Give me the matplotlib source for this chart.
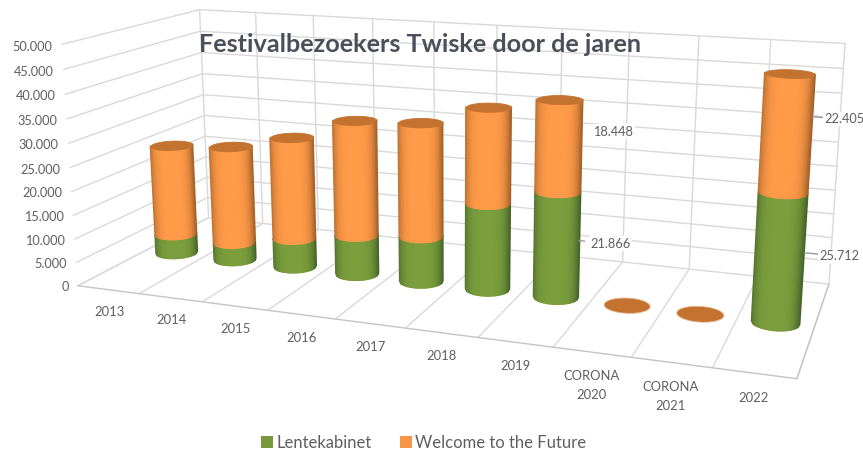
import numpy as np
import matplotlib
matplotlib.use('Agg')
import matplotlib.pyplot as plt
from matplotlib.colors import to_rgb
from matplotlib.patches import Patch
from mpl_toolkits.mplot3d import proj3d
from mpl_toolkits.mplot3d.art3d import Poly3DCollection

categories = ['2013', '2014', '2015', '2016', '2017', '2018', '2019',
              'CORONA\n2020', 'CORONA\n2021', '2022']
lentekabinet = [4300, 3900, 6300, 8500, 9700, 18100, 21866, 0, 0, 25712]
welcome = [20000, 21300, 22000, 24500, 23900, 19700, 18448, 0, 0, 22405]
value_ticks = list(range(0, 50001, 5000))

# Series order bottom to top, with the light and shaded cylinder colours
series = [('Lentekabinet', lentekabinet, '#7a9e3c', '#47652a', '#78993b'),
          ('Welcome to the Future', welcome, '#ff9a48', '#a5622a', '#f79646')]
CAP = '#c3732f'
GRID = '#d9d9d9'
EDGE = '#c4c4c4'
TEXT = '#5f5f5f'

W, H = 863, 449
plt.rcParams['font.family'] = ['Lato', 'DejaVu Sans']
fig = plt.figure(figsize=(W / 100, H / 100), dpi=100)
A = 264.18
ax = fig.add_axes([318.47 / W, 146.40 / H, A / W, A / H], projection='3d',
                  computed_zorder=False)
ax.set_axis_off()
ELEV, AZIM = 13.999, -70.02
ZOOM = 2.9619
ax.view_init(ELEV, AZIM, 0.0)
BOX = np.array([2.8961, 1.0764, 1.0])
# set_box_aspect rescales the array it is given, so it gets its own copy
ax.set_box_aspect(BOX.copy(), zoom=ZOOM)
ZMAX = value_ticks[-1]
N = len(categories)
ax.set_xlim(0, N)
ax.set_ylim(0, 1)
ax.set_zlim(0, ZMAX)
ax.set_xticks([])
ax.set_yticks([])
ax.set_zticks([])
ax.apply_aspect()
PROJ = ax.get_proj()


def line3d(xs, ys, zs, color=GRID, lw=1.0, z=1):
    ax.plot(xs, ys, zs, color=color, lw=lw, clip_on=False, zorder=z,
            solid_capstyle='round')


def label3d(x, y, z, s, **kw):
    # Flat text anchored at the projected position of a 3D point
    px, py, _ = proj3d.proj_transform(x, y, z, PROJ)
    return ax.text2D(px, py, s, transform=ax.transData, clip_on=False, **kw)


# Walls and floor
for v in value_ticks:
    line3d([0, 0], [0, 1], [v, v])
    line3d([0, N], [1, 1], [v, v])
for i in range(N + 1):
    line3d([i, i], [1, 1], [0, ZMAX])
    line3d([i, i], [0, 1], [0, 0])
line3d([0, N], [0, 0], [0, 0], color=EDGE)
line3d([N, N], [0, 1], [0, 0], color=EDGE)

# Box extents in scene units and the camera above the floor in front of it
scene = BOX * 1.8294640721620434 * 25 / 24 * ZOOM / np.linalg.norm(BOX)
el, az = np.deg2rad(ELEV), np.deg2rad(AZIM)
eye_x = scene[0] / 2 + 10 * np.cos(el) * np.cos(az)
eye_y = scene[1] / 2 + 10 * np.cos(el) * np.sin(az)

# Cylinder radius as a circle in the scene, expressed in data units
R_BOX = 0.090
RX = R_BOX / (BOX[0] / N)
RY = R_BOX / BOX[1]
STRIPS = 30
across = np.linspace(-1, 1, STRIPS + 1)
circle = np.linspace(0, 2 * np.pi, 121)


def side_colors(light, dark):
    light, dark = np.array(to_rgb(light)), np.array(to_rgb(dark))
    mid = 0.5 * (across[:-1] + across[1:])
    t = np.clip(np.abs(mid + 0.06), 0, 1)[:, None] ** 4
    rgb = light * (1 - t) + dark * t
    return np.c_[rgb, np.ones(len(rgb))][None, :, :]


layer = 10
for i in range(N):
    cx = i + 0.5
    # Only the half facing the camera, sampled evenly across the bar's width
    facing = np.arctan2(eye_y - 0.5 * scene[1], eye_x - cx / N * scene[0])
    angle = facing + np.arcsin(across)
    xs = cx + RX * np.cos(angle)
    ys = 0.5 + RY * np.sin(angle)
    base = 0
    for name, vals, light, dark, _ in series:
        v = vals[i]
        if v > 0:
            X = np.vstack([xs, xs])
            Y = np.vstack([ys, ys])
            Z = np.vstack([np.full_like(xs, base), np.full_like(xs, base + v)])
            ax.plot_surface(X, Y, Z, facecolors=side_colors(light, dark),
                            rstride=1, cstride=1, shade=False, linewidth=1.0,
                            antialiased=True, clip_on=False, zorder=layer)
            layer += 1
        base += v
    ring = np.c_[cx + RX * np.cos(circle), 0.5 + RY * np.sin(circle),
                 np.full_like(circle, base)]
    cap = Poly3DCollection([ring], facecolor=CAP,
                           edgecolor='#e9b78c' if base == 0 else CAP,
                           linewidth=0.6, zorder=layer, clip_on=False)
    ax.add_collection3d(cap, autolim=False)
    layer += 1


def dutch(v):
    return f'{v:,}'.replace(',', '.')


# Value axis labels in front of the left wall
for v in value_ticks:
    label3d(-0.16, 0, v - 600, dutch(v), ha='right', va='center', color=TEXT,
            fontsize=9.2, zorder=50)

# Category labels under the front floor edge
for i, c in enumerate(categories):
    label3d(i + 0.5, 0, -3500, c, ha='center', va='top', color=TEXT,
            fontsize=9.4, linespacing=1.7, zorder=50)

# Value labels beside the last festival bars
for i, vi, height, leader, gap in [(6, 0, 0.56, 0.08, 0.75), (6, 1, 0.7, 0.0, 0.75),
                                   (9, 0, 0.56, 0.2, 0.75), (9, 1, 0.655, 0.12, 0.70)]:
    vals = series[vi][1]
    base = 0 if vi == 0 else series[0][1][i]
    zpos = base + vals[i] * height
    if leader:
        line3d([i + 0.5 + RX, i + 0.5 + RX + leader], [0.5, 0.5], [zpos, zpos],
               color='#9a9a9a', z=45)
    label3d(i + 0.5 + gap, 0.5, zpos, dutch(vals[i]), ha='center', va='center',
            color=TEXT, fontsize=9.2, zorder=50,
            bbox=dict(facecolor='white', edgecolor='none', pad=1.0))

fig.text(419.5 / W, 1 - 44 / H, 'Festivalbezoekers Twiske door de jaren',
         ha='center', va='center', fontsize=18.2, fontweight='bold',
         color='#4a4f59')

handles = [Patch(facecolor=s[4], label=s[0]) for s in series]
fig.legend(handles=handles, loc='center', bbox_to_anchor=(423.5 / W, 1 - 442.5 / H),
           ncols=2, frameon=False, fontsize=12, labelcolor=TEXT,
           handlelength=0.72, handleheight=0.72, handletextpad=0.18,
           columnspacing=1.7, borderpad=0)

fig.savefig('out.png', dpi=100, facecolor='white')
